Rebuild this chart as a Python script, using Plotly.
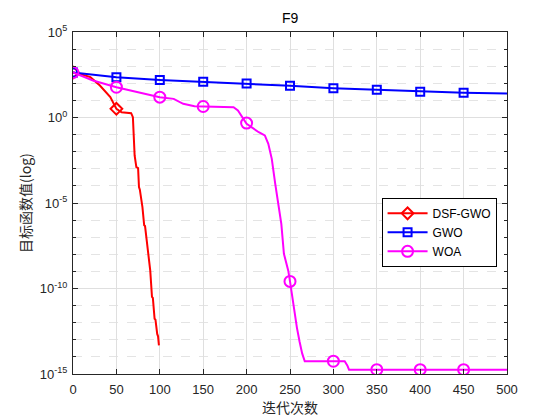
import plotly.graph_objects as go

# ---------------- data ----------------
# DSF-GWO convergence curve
dsf_iter = [0, 10, 20, 31, 43, 50, 56, 67, 69, 70, 71, 73, 75, 76, 77, 80, 82, 83, 86, 89, 91, 92, 94, 95, 97, 98, 99]
dsf_val = [427, 330, 229, 74, 15.5, 3.2, 2.0, 1.78, 1.05, 0.015, 0.0060, 1.26e-3, 1.1e-3,
           8.5e-5, 6.0e-5, 5.8e-6, 5.0e-7, 4.5e-7, 1.7e-8, 1.1e-9, 3.2e-11, 2.8e-11,
           1.7e-12, 1.5e-12, 2.2e-13, 1.6e-13, 4.7e-14]
dsf_mark_iter = [0, 50]
dsf_mark_val = [427, 3.2]

# GWO convergence curve
gwo_iter = [0, 50, 100, 150, 200, 250, 300, 350, 400, 450, 500]
gwo_val = [427, 229, 158, 123, 98, 71, 52, 42, 32, 28, 25]
gwo_mark_iter = [0, 50, 100, 150, 200, 250, 300, 350, 400, 450]
gwo_mark_val = [427, 229, 158, 123, 98, 71, 52, 42, 32, 28]

# WOA convergence curve
woa_iter = [0, 23, 50, 66, 85, 100, 116, 127, 140, 150, 185, 190, 200, 214, 221, 225, 229,
            233, 236, 240, 243, 248, 250, 254, 258, 261, 264, 267, 313, 316, 318, 500]
woa_val = [427, 145, 59, 38, 24.5, 15.5, 12.3, 6.3, 4.6, 4.4, 4.0, 2.6, 0.43, 0.138, 0.089,
           0.029, 3.8e-3, 1.3e-4, 1.4e-5, 6.0e-7, 1.07e-8, 1.1e-9, 2.6e-10, 8.1e-12,
           5.0e-13, 7.9e-14, 1.6e-14, 5.6e-15, 5.6e-15, 3.2e-15, 1.8e-15, 1.8e-15]
woa_mark_iter = [0, 50, 100, 150, 200, 250, 300, 350, 400, 450]
woa_mark_val = [427, 59, 15.5, 4.4, 0.47, 2.6e-10, 5.6e-15, 1.8e-15, 1.8e-15, 1.8e-15]

y_tick_vals = [1e-15, 1e-10, 1e-5, 1, 1e5]
y_tick_text = ["10<sup>-15</sup>", "10<sup>-10</sup>", "10<sup>-5</sup>", "10<sup>0</sup>", "10<sup>5</sup>"]
x_tick_vals = [0, 50, 100, 150, 200, 250, 300, 350, 400, 450, 500]

series = [
    ("DSF-GWO", dsf_iter, dsf_val, dsf_mark_iter, dsf_mark_val, "#ff0000", "diamond-open", 9),
    ("GWO", gwo_iter, gwo_val, gwo_mark_iter, gwo_mark_val, "#0000ff", "square-open", 8),
    ("WOA", woa_iter, woa_val, woa_mark_iter, woa_mark_val, "#ff00ff", "circle-open", 11),
]

fig = go.Figure()
for name, xi, yv, mx, my, col, sym, ms in series:
    fig.add_trace(go.Scatter(x=xi, y=yv, mode="lines", line=dict(color=col, width=2),
                             showlegend=False, hoverinfo="skip"))
    fig.add_trace(go.Scatter(x=mx, y=my, mode="markers",
                             marker=dict(symbol=sym, size=ms, color=col, line=dict(color=col, width=2)),
                             showlegend=False, hoverinfo="skip"))
for name, xi, yv, mx, my, col, sym, ms in series:
    fig.add_trace(go.Scatter(x=[None], y=[None], mode="lines+markers", name=name,
                             line=dict(color=col, width=2),
                             marker=dict(symbol=sym, size=ms, color=col, line=dict(color=col, width=2))))

axis_font = dict(family="Liberation Sans, Arial, sans-serif", size=13, color="#262626")
cjk_font = dict(family="Noto Sans CJK SC, sans-serif", size=14, color="#262626")

# the page body has an 8 px margin, so the figure is drawn 8 px smaller / shifted
fig.update_layout(
    width=552, height=412,
    margin=dict(l=65, r=53, t=24, b=46, autoexpand=False),
    paper_bgcolor="white", plot_bgcolor="white",
    legend=dict(x=0.711, y=0.515, xanchor="left", yanchor="top",
                bgcolor="white", bordercolor="#000000", borderwidth=1,
                font=dict(family="Liberation Sans, Arial, sans-serif", size=12, color="#000000"),
                itemwidth=40, tracegroupgap=0),
    showlegend=True,
    annotations=[
        dict(text="F9", x=0.5, y=1, xref="paper", yref="paper", xanchor="center", yanchor="middle",
             yshift=14, showarrow=False,
             font=dict(family="Liberation Sans, Arial, sans-serif", size=14, color="#000000")),
        dict(text="迭代次数", x=0.5, y=0, xref="paper", yref="paper", xanchor="center", yanchor="middle",
             yshift=-33, showarrow=False, font=cjk_font),
        dict(text="目标函数值(log)", x=0, y=0.5, xref="paper", yref="paper", xanchor="center",
             yanchor="middle", xshift=-48, textangle=-90, showarrow=False, font=cjk_font),
    ],
)

fig.update_xaxes(
    range=[0, 500], tickmode="array", tickvals=x_tick_vals, automargin=False,
    ticks="inside", ticklen=5, tickcolor="#262626", tickfont=axis_font, ticklabelstandoff=3,
    showline=True, linecolor="#262626", linewidth=1, mirror="ticks",
    showgrid=True, gridcolor="#dfdfdf", gridwidth=1, zeroline=False,
)
fig.update_yaxes(
    type="log", range=[-15, 5], tickmode="array", tickvals=y_tick_vals, ticktext=y_tick_text,
    automargin=False,
    ticks="inside", ticklen=5, tickcolor="#262626", tickfont=axis_font, ticklabelstandoff=2,
    showline=True, linecolor="#262626", linewidth=1, mirror="ticks",
    showgrid=True, gridcolor="#dfdfdf", gridwidth=1, zeroline=False,
    minor=dict(tickmode="linear", tick0=0, dtick=1, ticks="inside", ticklen=3,
               tickcolor="#262626", showgrid=True, gridcolor="#e4e4e4", griddash="dash"),
)

fig.write_html("out.html")
